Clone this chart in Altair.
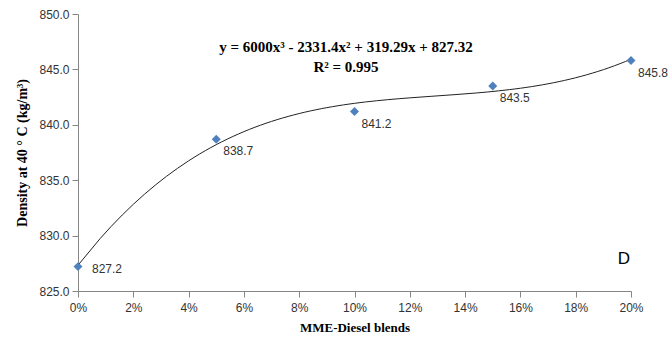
import altair as alt
import pandas as pd

blend = [0.0, 0.05, 0.10, 0.15, 0.20]
density = [827.2, 838.7, 841.2, 843.5, 845.8]
labels = ["827.2", "838.7", "841.2", "843.5", "845.8"]
equation = "y = 6000x³ - 2331.4x² + 319.29x + 827.32"
r2 = "R² = 0.995"
panel = "D"

df = pd.DataFrame({"x": blend, "y": density, "label": labels, "i": list(range(len(blend)))})

xs = alt.Scale(domain=[0, 0.2], nice=False, zero=False)
ys = alt.Scale(domain=[825, 850], nice=False, zero=False)

xax = alt.Axis(format=".0%", values=[i / 50 for i in range(11)], title="MME-Diesel blends",
               grid=False, domainColor="#868686", tickColor="#868686", tickSize=6, labelFlush=False,
               labelFont="Liberation Sans", labelFontSize=12, labelColor="#333333", labelPadding=5,
               titleFont="Liberation Serif", titleFontSize=13, titleFontWeight="bold",
               titleColor="#000000", titlePadding=8)
yax = alt.Axis(format=".1f", values=[825, 830, 835, 840, 845, 850], title="Density at 40 ° C (kg/m³)",
               grid=False, domainColor="#868686", tickColor="#868686", tickSize=6, labelFlush=False,
               labelFont="Liberation Sans", labelFontSize=12, labelColor="#333333", labelPadding=3,
               titleFont="Liberation Serif", titleFontSize=14, titleFontWeight="bold",
               titleColor="#000000", titlePadding=9)

base = alt.Chart(df)

trend = base.transform_regression("x", "y", method="poly", order=3).mark_line(
    color="#222222", strokeWidth=1, clip=True
).encode(x=alt.X("x:Q", scale=xs, axis=xax), y=alt.Y("y:Q", scale=ys, axis=yax))

pts = base.mark_point(shape="diamond", filled=True, color="#4F81BD", size=80, opacity=1).encode(
    x=alt.X("x:Q", scale=xs), y=alt.Y("y:Q", scale=ys)
)

lab_rest = base.transform_filter("datum.i > 0").mark_text(
    align="left", baseline="middle", dx=7, dy=12, font="Liberation Sans", fontSize=12, color="#333333"
).encode(x=alt.X("x:Q", scale=xs), y=alt.Y("y:Q", scale=ys), text="label:N")

lab_first = base.transform_filter("datum.i == 0").mark_text(
    align="left", baseline="middle", dx=14, dy=2, font="Liberation Sans", fontSize=12, color="#333333"
).encode(x=alt.X("x:Q", scale=xs), y=alt.Y("y:Q", scale=ys), text="label:N")

eq = alt.Chart(pd.DataFrame({"t": [equation]})).mark_text(
    font="Liberation Serif", fontSize=15, fontWeight="bold", color="#000000", align="center", baseline="middle"
).encode(x=alt.value(268), y=alt.value(33), text="t:N")

r2t = alt.Chart(pd.DataFrame({"t": [r2]})).mark_text(
    font="Liberation Serif", fontSize=15, fontWeight="bold", color="#000000", align="center", baseline="middle"
).encode(x=alt.value(268), y=alt.value(53), text="t:N")

pan = alt.Chart(pd.DataFrame({"t": [panel]})).mark_text(
    font="Liberation Sans", fontSize=17, color="#000000", align="center", baseline="middle"
).encode(x=alt.value(546), y=alt.value(245), text="t:N")

chart = alt.layer(trend, pts, lab_rest, lab_first, eq, r2t, pan).properties(
    width=553, height=277,
    padding={"left": 78, "top": 14, "right": 39, "bottom": 57},
    autosize=alt.AutoSizeParams(type="none"),
    background="#ffffff",
).configure_view(stroke=None)

chart.save("out.html", embed_options={"renderer": "svg", "actions": False})
